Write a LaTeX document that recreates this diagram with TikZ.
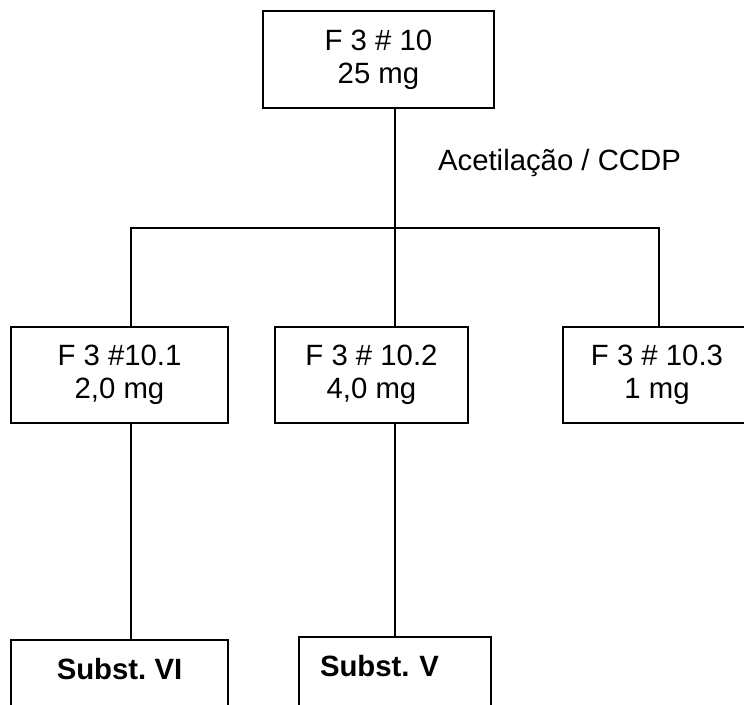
\documentclass[tikz,border=0pt]{standalone}
\usepackage{fontspec}
\setmainfont{Liberation Sans}
\frenchspacing
\tikzset{
  frac/.style={draw, line width=1.3pt, align=center, minimum height=72pt, inner sep=0pt, font=\fontsize{22}{24.5}\selectfont},
  subst/.style={draw, line width=1.3pt, anchor=north, inner xsep=0pt, inner ysep=15pt, text height=15pt, text depth=60pt, font=\fontsize{22}{24.5}\selectfont\bfseries},
  note/.style={font=\fontsize{22}{24.5}\selectfont},
  link/.style={line width=1.3pt},
}
\begin{document}
\begin{tikzpicture}[x=0.75pt, y=-0.75pt]
    \useasboundingbox (0,0) rectangle (744,705);
    \clip (0,0) rectangle (744,705);
    \node[frac, minimum width=173.25pt, minimum height=72.75pt] (top) at (378.5,59.5) {F 3 \# 10\\25 mg};
    \node[note, anchor=base] (acet) at (559.5,171) {Acetilação / CCDP};
    \coordinate (hub) at (395,228);
    \coordinate (jl) at (131,228);
    \coordinate (jr) at (659,228);
    \node[frac, minimum width=162.75pt] (f1) at (119.5,375) {F 3 \#10.1\\2,0 mg};
    \node[frac, minimum width=144.75pt] (f2) at (371.5,375) {F 3 \# 10.2\\4,0 mg};
    \node[frac, minimum width=141pt] (f3) at (657,375) {F 3 \# 10.3\\1 mg};
    \node[subst, minimum width=162.75pt] (s6) at (119.5,639) {Subst. VI};
    \node[subst, inner xsep=15.75pt, text width=112.5pt, align=left] (s5) at (395,636) {Subst. V};
    \draw[link] (top.south -| hub) -- (hub) -- (hub |- f2.north);
    \draw[link] (jl |- f1.north) -- (jl) -- (jr) -- (jr |- f3.north);
    \draw[link] (f1.south -| jl) -- (jl |- s6.north);
    \draw[link] (f2.south -| hub) -- (hub |- s5.north);
  \end{tikzpicture}
\end{document}
